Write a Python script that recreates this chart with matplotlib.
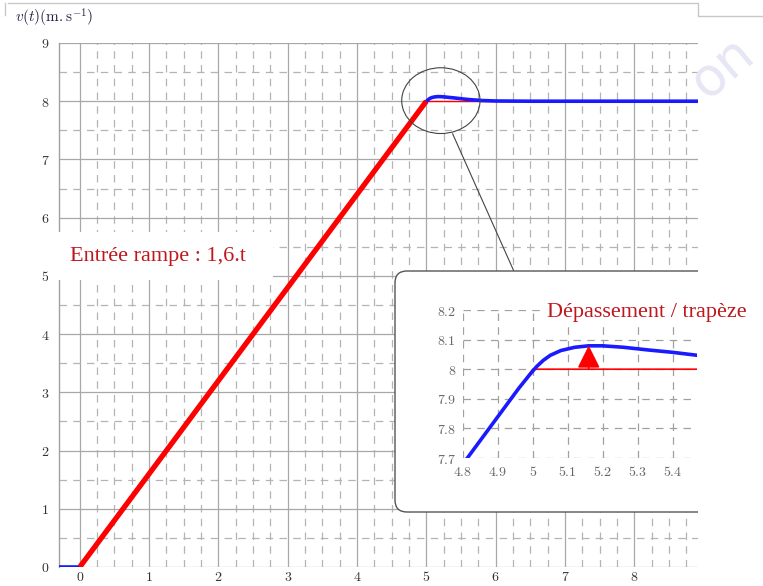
import matplotlib
matplotlib.use("Agg")
import matplotlib.pyplot as plt
from matplotlib.patches import Ellipse, FancyBboxPatch, Rectangle
from matplotlib.lines import Line2D
import numpy as np

plt.rcParams['mathtext.fontset'] = 'cm'

# input ramp 1.6 t, saturated at 8
ramp_t = [0.0, 5.0, 8.92]
ramp_v = [0.0, 8.0, 8.0]

# system response
resp_t = [-0.3, 0.0, 4.96, 4.99, 5.01, 5.03, 5.05, 5.08, 5.12, 5.16, 5.2, 5.26, 5.33,
          5.4, 5.47, 5.6, 5.8, 6.0, 6.5, 8.92]
resp_v = [0.0, 0.0, 7.936, 7.98, 8.008, 8.03, 8.047, 8.063, 8.074, 8.079, 8.079,
          8.074, 8.065, 8.057, 8.047, 8.03, 8.012, 8.004, 8.0, 8.0]

x_ticks = [0, 1, 2, 3, 4, 5, 6, 7, 8]
y_ticks = [0, 1, 2, 3, 4, 5, 6, 7, 8, 9]
zoom_x_ticks = [4.8, 4.9, 5.0, 5.1, 5.2, 5.3, 5.4]
zoom_x_labels = ['4.8', '4.9', '5', '5.1', '5.2', '5.3', '5.4']
zoom_y_ticks = [7.7, 7.8, 7.9, 8.0, 8.1, 8.2]
zoom_y_labels = ['7.7', '7.8', '7.9', '8', '8.1', '8.2']
overshoot_t = 5.16
overshoot_v = 8.08

W, H = 763, 586
fig = plt.figure(figsize=(W / 100, H / 100), dpi=100)

def px_axes(x0, y0, x1, y1):
    # pixel box (top-left origin) -> figure fraction rect
    return [x0 / W, 1 - y1 / H, (x1 - x0) / W, (y1 - y0) / H]

# ---- main plot
ax = fig.add_axes(px_axes(59, 43, 698, 567))
ax.set_xlim(-0.3, 8.92)
ax.set_ylim(0, 9)
ax.set_xticks(x_ticks)
ax.set_xticklabels([f'${v}$' for v in x_ticks])
ax.set_yticks(y_ticks)
ax.set_yticklabels([f'${v}$' for v in y_ticks])
ax.set_xticks(np.arange(0, 8.9, 0.25), minor=True)
ax.set_yticks(np.arange(0.5, 9, 1.0), minor=True)
ax.tick_params(which='both', length=0, labelsize=10, labelcolor='#333333')
ax.tick_params(axis='x', pad=2)
ax.tick_params(axis='y', pad=7)
ax.grid(True, which='major', color='#a8a8a8', lw=0.9, ls='-')
ax.grid(True, which='minor', color='#b4b4b4', lw=0.9, ls=(0, (6, 5)))
for s in ['top', 'right', 'bottom']:
    ax.spines[s].set_visible(False)
ax.spines['left'].set_color('#a0a0a0')
ax.spines['left'].set_linewidth(1.0)

ax.plot(ramp_t[1:], ramp_v[1:], color='red', lw=1.0, zorder=3)
ax.plot(resp_t, resp_v, color='#1a1aff', lw=2.6, zorder=3.5)
ax.plot(ramp_t[:2], ramp_v[:2], color='red', lw=3.8, zorder=4, solid_capstyle='butt')

# zoom circle and connector
ax.add_patch(Ellipse((5.21, 8.01), 1.13, 1.13, fill=False, ec='#444444', lw=0.8, zorder=4))
ax.plot([5.38, 6.26], [7.44, 5.09], color='#444444', lw=0.8, zorder=4)

# rounded inset frame (clipped by the axes on the right)
frame = FancyBboxPatch((3.95, 0.74), 3.4, 2.41, boxstyle='round,pad=0,rounding_size=0.12',
                       transform=fig.dpi_scale_trans, fc='white', ec='#555555', lw=1.0,
                       zorder=5)
ax.add_patch(frame)

# white label box over the grid
ax.add_patch(Rectangle((0.48, 3.06), 2.25, 0.48, transform=fig.dpi_scale_trans,
                       fc='white', ec='none', zorder=6, clip_on=False))
ax.text(1.575, 3.30, 'Entrée rampe : 1,6.t', transform=fig.dpi_scale_trans,
        fontsize=16, family='Liberation Serif', color='#c0161c',
        ha='center', va='center', zorder=7)

fig.text(15 / W, 1 - 18 / H, r'$v(t)(\mathrm{m.s^{-1}})$', fontsize=11,
         color='#222244', ha='left', va='center')

# ---- inset
ax2 = fig.add_axes(px_axes(463, 310, 697, 458))
ax2.set_xlim(4.8, 5.47)
ax2.set_ylim(7.7, 8.2)
ax2.set_xticks(zoom_x_ticks)
ax2.set_xticklabels([f'${v}$' for v in zoom_x_labels])
ax2.set_yticks(zoom_y_ticks)
ax2.set_yticklabels([f'${v}$' for v in zoom_y_labels])
ax2.tick_params(length=0, labelsize=10, labelcolor='#666666', pad=5)
ax2.grid(True, color='#a0a0a0', lw=0.9, ls=(0, (6, 5)))
for s in ax2.spines.values():
    s.set_visible(False)
ax2.patch.set_alpha(0)
ax2.plot(ramp_t, ramp_v, color='red', lw=1.2, zorder=3)
ax2.plot(resp_t, resp_v, color='#1a1aff', lw=2.6, zorder=3.5)
ax2.annotate('', xy=(overshoot_t, overshoot_v), xytext=(overshoot_t, 8.0),
             arrowprops=dict(arrowstyle='-|>,head_length=1.0,head_width=0.5',
                             mutation_scale=14, shrinkA=0, shrinkB=0,
                             color='red', lw=1.2), zorder=4)
fig.text(647 / W, 1 - 312 / H, 'Dépassement / trapèze', fontsize=16,
         family='Liberation Serif', color='#c0161c', ha='center', va='center',
         bbox=dict(fc='white', ec='none', pad=1))

# page decorations from the screenshot
fig.add_artist(Line2D([8 / W, 698 / W, 698 / W, 1.0],
                      [1 - 3 / H, 1 - 3 / H, 1 - 16 / H, 1 - 16 / H],
                      color='#c8c8c8', lw=1.0))
fig.add_artist(Line2D([5 / W, 5 / W], [1 - 3 / H, 1 - 15 / H], color='#c8c8c8', lw=1.0))
fig.text(722 / W, 1 - 68 / H, 'on', fontsize=38, color='#e6e6f4', rotation=40,
         ha='center', va='center', zorder=0)

fig.savefig('out.png', dpi=100)
